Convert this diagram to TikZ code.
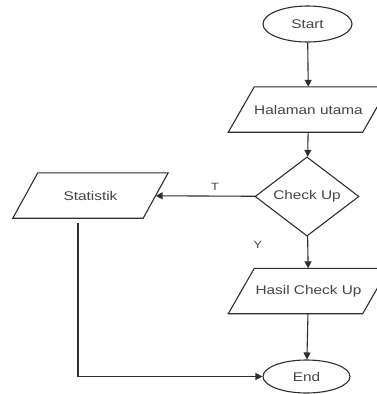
\documentclass[tikz,border=0pt]{standalone}
\usepackage{fontspec}
\newfontfamily\flowfont[FakeStretch=1.22]{Liberation Sans}
\usetikzlibrary{shapes.geometric,arrows.meta}
\definecolor{linegray}{HTML}{2E2E2E}
\definecolor{textgray}{HTML}{454545}
\tikzset{
  every node/.style={font=\flowfont\fontsize{12.6}{15}\selectfont, text=textgray},
  terminal/.style={ellipse, draw=linegray, line width=1.1pt, inner sep=0pt},
  iobox/.style={rectangle, inner sep=0pt, minimum width=134pt, minimum height=45pt},
  decision/.style={diamond, draw=linegray, line width=1.1pt, inner sep=0pt,
    minimum width=104pt, minimum height=71pt},
  flow/.style={draw=linegray, line width=1.1pt, -{Triangle[length=7pt,width=7pt]}},
  answer/.style={font=\flowfont\fontsize{10.5}{12}\selectfont}
}
\begin{document}
\begin{tikzpicture}[x=1pt,y=-1pt]
\useasboundingbox (0,0) rectangle (377,394);
\node[terminal, minimum width=89pt, minimum height=36pt] (start) at (307.5, 24) {Start};
\node[iobox] (halaman) at (308.5, 109.5) {Halaman utama};
\node[decision] (check) at (307, 196.5) {Check Up};
\node[iobox, minimum width=130pt] (stat) at (90.5, 195.5) {Statistik};
\node[iobox] (hasil) at (308.5, 291) {Hasil Check Up};
\node[terminal, minimum width=87pt, minimum height=33pt] (end) at (306.5, 376.5) {End};
% slanted outlines of the input/output boxes
\foreach \io/\slant in {halaman/13, stat/12.5, hasil/13}
  \draw[linegray, line width=1.1pt]
    ([xshift=\slant pt]\io.north west) -- ([xshift=\slant pt]\io.north east)
    -- ([xshift=-\slant pt]\io.south east) -- ([xshift=-\slant pt]\io.south west) -- cycle;
\coordinate (statout) at (78, 223); % line start below Statistik
\draw[flow] (start) -- (halaman);
\draw[flow] (halaman) -- (check);
\draw[flow] (check) -- node[answer, above, pos=0.4, yshift=2pt] {T} (stat);
\draw[flow] (check) -- (hasil);
\node[answer] (ylabel) at (258, 245) {Y};
\draw[flow] (hasil) -- (end);
\draw[flow] (statout) |- (end);
\end{tikzpicture}
\end{document}
